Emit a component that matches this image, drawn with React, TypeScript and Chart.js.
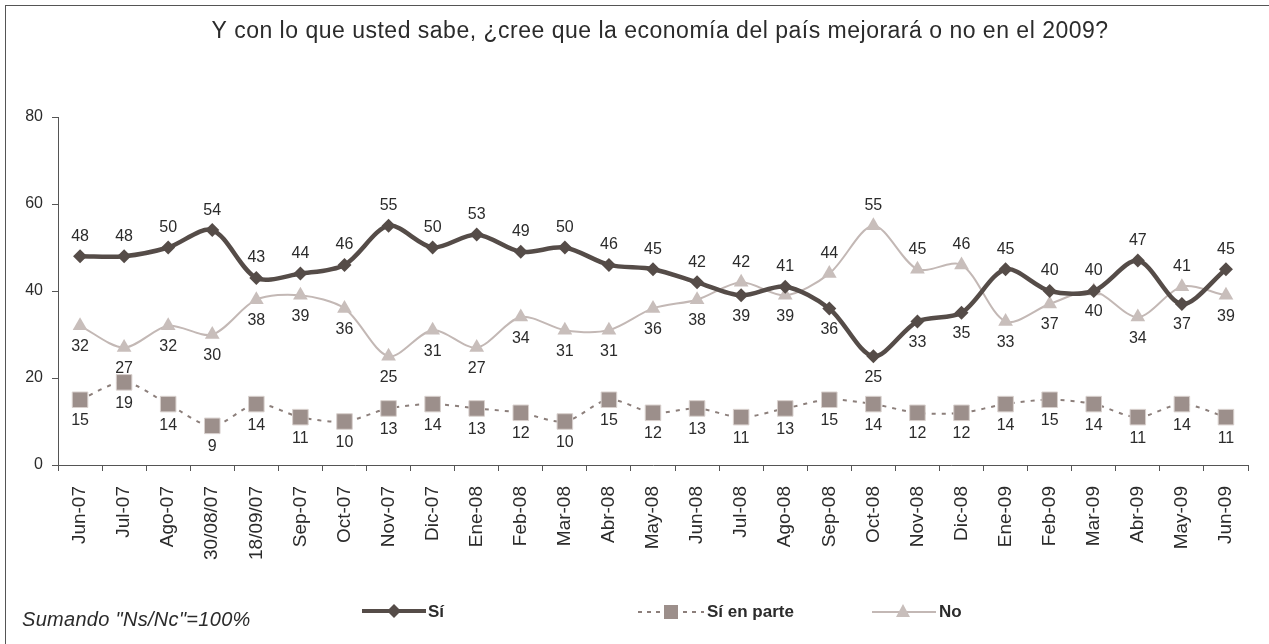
import React, { useEffect, useRef } from "react";
import { Chart, registerables } from "chart.js";

Chart.register(...registerables);

const categories = [
  "Jun-07", "Jul-07", "Ago-07", "30/08/07", "18/09/07", "Sep-07", "Oct-07", "Nov-07", "Dic-07",
  "Ene-08", "Feb-08", "Mar-08", "Abr-08", "May-08", "Jun-08", "Jul-08", "Ago-08", "Sep-08",
  "Oct-08", "Nov-08", "Dic-08", "Ene-09", "Feb-09", "Mar-09", "Abr-09", "May-09", "Jun-09",
];
const si = [48, 48, 50, 54, 43, 44, 46, 55, 50, 53, 49, 50, 46, 45, 42, 39, 41, 36, 25, 33, 35, 45, 40, 40, 47, 37, 45];
const siEnParte = [15, 19, 14, 9, 14, 11, 10, 13, 14, 13, 12, 10, 15, 12, 13, 11, 13, 15, 14, 12, 12, 14, 15, 14, 11, 14, 11];
const no = [32, 27, 32, 30, 38, 39, 36, 25, 31, 27, 34, 31, 31, 36, 38, 42, 39, 44, 55, 45, 46, 33, 37, 40, 34, 41, 39];

const TITLE = "Y con lo que usted sabe, ¿cree que la economía del país mejorará o no en el 2009?";
const FOOTNOTE = 'Sumando "Ns/Nc"=100%';
const FONT = "'Liberation Sans', Arial, Helvetica, sans-serif";

const SI_COLOR = "#554c48";
const PARTE_LINE = "#8c7f7b";
const PARTE_FILL = "#9c8f8b";
const NO_LINE = "#c3b8b5";
const NO_FILL = "#c8bebb";
const TEXT = "#2b2b2b";

function drawDiamond(ctx: CanvasRenderingContext2D, x: number, y: number, r: number, color: string) {
  ctx.beginPath();
  ctx.moveTo(x, y - r);
  ctx.lineTo(x + r, y);
  ctx.lineTo(x, y + r);
  ctx.lineTo(x - r, y);
  ctx.closePath();
  ctx.fillStyle = color;
  ctx.fill();
}

const decorPlugin = {
  id: "decor",
  afterDatasetsDraw(chart: any) {
    const ctx: CanvasRenderingContext2D = chart.ctx;
    ctx.save();
    ctx.font = `16px ${FONT}`;
    ctx.fillStyle = TEXT;
    ctx.textAlign = "center";
    ctx.textBaseline = "middle";
    chart.data.datasets.forEach((ds: any, i: number) => {
      const meta = chart.getDatasetMeta(i);
      meta.data.forEach((pt: any, j: number) => {
        const v = ds.data[j];
        let above = false;
        if (i === 0) above = si[j] >= no[j];
        if (i === 2) above = no[j] > si[j];
        const y = above ? pt.y - 20 : pt.y + 21;
        ctx.fillText(String(v), pt.x, y);
      });
    });
    ctx.restore();
  },
  afterDraw(chart: any) {
    const ctx: any = chart.ctx;
    ctx.save();
    // outer frame
    ctx.strokeStyle = "#555";
    ctx.lineWidth = 1;
    ctx.strokeRect(5.5, 5.5, 1300, 700);
    // title
    ctx.fillStyle = TEXT;
    ctx.font = `23px ${FONT}`;
    ctx.letterSpacing = "0.5px";
    ctx.textAlign = "center";
    ctx.textBaseline = "middle";
    ctx.fillText(TITLE, 660, 32);
    // footnote
    ctx.font = `italic 20px ${FONT}`;
    ctx.letterSpacing = "0.3px";
    ctx.textAlign = "left";
    ctx.fillText(FOOTNOTE, 22, 620);
    ctx.letterSpacing = "0px";
    // legend
    const ly = 611;
    ctx.font = `bold 17px ${FONT}`;
    // Sí
    ctx.strokeStyle = SI_COLOR;
    ctx.lineWidth = 4;
    ctx.beginPath();
    ctx.moveTo(362, ly);
    ctx.lineTo(426, ly);
    ctx.stroke();
    drawDiamond(ctx, 394, ly, 7, SI_COLOR);
    ctx.fillStyle = TEXT;
    ctx.fillText("Sí", 428, ly + 1);
    // Sí en parte
    ctx.strokeStyle = PARTE_LINE;
    ctx.lineWidth = 2;
    ctx.setLineDash([4, 5]);
    ctx.beginPath();
    ctx.moveTo(638, ly + 1);
    ctx.lineTo(704, ly + 1);
    ctx.stroke();
    ctx.setLineDash([]);
    ctx.fillStyle = "#fff";
    ctx.fillRect(663, ly - 7, 20, 16);
    ctx.fillStyle = PARTE_FILL;
    ctx.fillRect(664, ly - 6, 14, 14);
    ctx.fillStyle = TEXT;
    ctx.fillText("Sí en parte", 707, ly + 1);
    // No
    ctx.strokeStyle = NO_LINE;
    ctx.lineWidth = 2;
    ctx.beginPath();
    ctx.moveTo(872, ly + 1);
    ctx.lineTo(936, ly + 1);
    ctx.stroke();
    ctx.fillStyle = NO_FILL;
    ctx.beginPath();
    ctx.moveTo(903, ly - 7);
    ctx.lineTo(910, ly + 6);
    ctx.lineTo(896, ly + 6);
    ctx.closePath();
    ctx.fill();
    ctx.fillStyle = TEXT;
    ctx.fillText("No", 939, ly + 1);
    ctx.restore();
  },
};

export default function App() {
  const ref = useRef<HTMLCanvasElement | null>(null);
  useEffect(() => {
    if (!ref.current) return;
    const chart = new Chart(ref.current, {
      type: "line",
      data: {
        labels: categories,
        datasets: [
          {
            label: "Sí",
            data: si,
            borderColor: SI_COLOR,
            backgroundColor: SI_COLOR,
            borderWidth: 4.5,
            pointStyle: "rectRot",
            pointRadius: 7,
            pointBorderWidth: 0,
            pointBackgroundColor: SI_COLOR,
            tension: 0.3,
            order: 0,
          },
          {
            label: "Sí en parte",
            data: siEnParte,
            borderColor: PARTE_LINE,
            backgroundColor: PARTE_FILL,
            borderWidth: 2,
            borderDash: [4, 6],
            pointStyle: "rect",
            pointRadius: 11,
            pointBorderWidth: 1,
            pointBorderColor: "#d9d1ce",
            pointBackgroundColor: PARTE_FILL,
            tension: 0.3,
            order: 2,
          },
          {
            label: "No",
            data: no,
            borderColor: NO_LINE,
            backgroundColor: NO_FILL,
            borderWidth: 2,
            pointStyle: "triangle",
            pointRadius: 8.5,
            pointBorderWidth: 0,
            pointBackgroundColor: NO_FILL,
            tension: 0.3,
            order: 1,
          },
        ],
      },
      options: {
        animation: false,
        responsive: false,
        maintainAspectRatio: false,
        layout: { padding: { left: 0, right: 21, top: 117, bottom: 0 } },
        plugins: {
          legend: { display: false },
          title: { display: false },
          tooltip: { enabled: false },
        },
        scales: {
          x: {
            offset: true,
            grid: {
              offset: true,
              drawOnChartArea: false,
              drawTicks: true,
              tickLength: 6,
              color: "#555",
            },
            border: { color: "#555", width: 1 },
            ticks: {
              color: TEXT,
              font: { family: FONT, size: 19 },
              minRotation: 90,
              maxRotation: 90,
              autoSkip: false,
              padding: 15,
            },
            afterFit: (s: any) => {
              s.height = 179;
            },
          },
          y: {
            min: 0,
            max: 80,
            ticks: {
              stepSize: 20,
              color: TEXT,
              font: { family: FONT, size: 16 },
              padding: 9,
            },
            grid: {
              drawOnChartArea: false,
              drawTicks: true,
              tickLength: 6,
              color: "#555",
            },
            border: { color: "#555", width: 1 },
            afterFit: (s: any) => {
              s.width = 58;
            },
          },
        },
      },
      plugins: [decorPlugin],
    });
    return () => chart.destroy();
  }, []);
  return (
    <div style={{ position: "absolute", left: 0, top: 0, width: 1269, height: 644, background: "#fff" }}>
      <canvas ref={ref} width={1269} height={644} />
    </div>
  );
}
